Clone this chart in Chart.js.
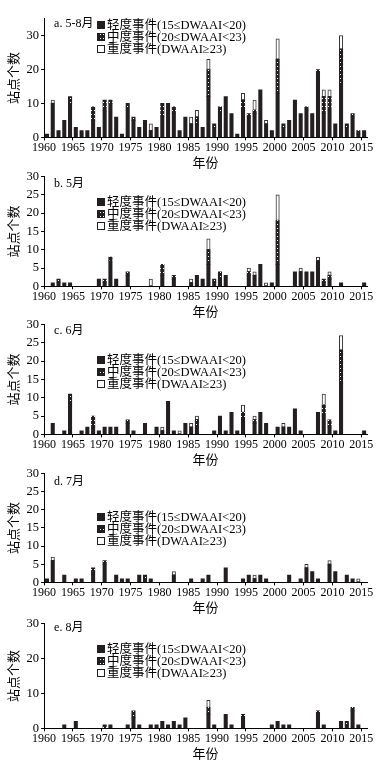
<!DOCTYPE html>
<html>
<head>
<meta charset="utf-8">
<script src="https://cdn.jsdelivr.net/npm/chart.js@4.4.0/dist/chart.umd.min.js"></script>
<style>
    body { margin: 0; background: #fff; width: 380px; height: 763px; position: relative; overflow: hidden; }
    canvas { position: absolute; left: 0; }
</style>
</head>
<body>
<canvas id="panelA" width="380" height="161" style="top:9px"></canvas>
<canvas id="panelB" width="380" height="152" style="top:167px"></canvas>
<canvas id="panelC" width="380" height="152" style="top:315px"></canvas>
<canvas id="panelD" width="380" height="151" style="top:464px"></canvas>
<canvas id="panelE" width="380" height="147" style="top:614px"></canvas>
<script>
// Years 1960-2015, one bar per year
const years = Array.from({ length: 56 }, (_, i) => 1960 + i);

// a. May-August
const aLight = [1, 10, 2, 5, 10, 3, 2, 2, 5, 3,
    8, 10, 6, 1, 8, 5, 3, 5, 2, 3,
    6, 10, 7, 2, 6, 4, 4, 3, 12, 3,
    7, 12, 7, 1, 8, 6, 7, 14, 4, 2,
    13, 3, 5, 11, 7, 8, 7, 19, 7, 8,
    4, 16, 3, 6, 1, 2];
const aMid = [0, 0, 0, 0, 2, 0, 0, 0, 4, 0,
    3, 1, 0, 0, 2, 1, 0, 0, 0, 0,
    4, 0, 2, 0, 0, 0, 2, 0, 8, 1,
    2, 0, 0, 0, 3, 1, 1, 0, 0, 0,
    10, 1, 0, 0, 0, 1, 0, 1, 5, 4,
    0, 10, 1, 1, 1, 0];
const aSevere = [0, 1, 0, 0, 0, 0, 0, 0, 0, 0,
    0, 0, 0, 0, 0, 0, 0, 0, 2, 0,
    0, 0, 0, 0, 0, 2, 2, 0, 3, 0,
    0, 0, 0, 0, 2, 0, 3, 0, 1, 0,
    6, 0, 0, 0, 0, 0, 0, 0, 2, 2,
    0, 4, 0, 0, 0, 0];

// b. May
const bLight = [0, 1, 1, 1, 1, 0, 0, 0, 0, 2,
    1, 7, 2, 0, 3, 0, 0, 0, 0, 0,
    3, 0, 2, 0, 0, 1, 3, 2, 6, 1,
    2, 3, 0, 0, 0, 3, 3, 6, 0, 1,
    6, 0, 0, 4, 4, 4, 4, 7, 1, 2,
    0, 1, 0, 0, 0, 1];
const bMid = [0, 0, 1, 0, 0, 0, 0, 0, 0, 0,
    1, 1, 0, 0, 1, 0, 0, 0, 0, 0,
    3, 0, 1, 0, 0, 0, 0, 0, 4, 1,
    2, 0, 0, 0, 0, 1, 0, 0, 0, 0,
    12, 0, 0, 0, 0, 0, 0, 0, 1, 1,
    0, 0, 0, 0, 0, 0];
const bSevere = [0, 0, 0, 0, 0, 0, 0, 0, 0, 0,
    0, 0, 0, 0, 0, 0, 0, 0, 2, 0,
    0, 0, 0, 0, 0, 1, 0, 0, 3, 0,
    0, 0, 0, 0, 0, 1, 1, 0, 1, 0,
    7, 0, 0, 0, 1, 0, 0, 1, 0, 1,
    0, 0, 0, 0, 0, 0];

// c. June
const cLight = [0, 3, 0, 1, 9, 0, 1, 2, 2, 1,
    2, 2, 2, 0, 3, 1, 0, 3, 0, 2,
    1, 9, 1, 0, 3, 2, 2, 0, 0, 1,
    5, 1, 6, 1, 4, 0, 3, 6, 3, 0,
    2, 2, 2, 7, 1, 0, 0, 6, 5, 2,
    1, 14, 0, 0, 0, 1];
const cMid = [0, 0, 0, 0, 2, 0, 0, 0, 3, 0,
    0, 0, 0, 0, 1, 0, 0, 0, 0, 0,
    0, 0, 0, 0, 0, 0, 2, 0, 0, 0,
    0, 0, 0, 0, 2, 0, 1, 0, 0, 0,
    0, 0, 0, 0, 0, 0, 0, 0, 3, 2,
    0, 9, 0, 0, 0, 0];
const cSevere = [0, 0, 0, 0, 0, 0, 0, 0, 0, 0,
    0, 0, 0, 0, 0, 0, 0, 0, 0, 0,
    1, 0, 0, 1, 0, 1, 1, 0, 0, 0,
    0, 0, 0, 0, 2, 0, 1, 0, 0, 0,
    0, 1, 0, 0, 0, 0, 0, 0, 3, 0,
    0, 4, 0, 0, 0, 0];

// d. July
const dLight = [1, 6, 0, 2, 0, 1, 1, 0, 3, 0,
    5, 0, 2, 1, 1, 0, 2, 1, 1, 0,
    0, 0, 2, 0, 0, 1, 0, 1, 2, 0,
    0, 4, 0, 0, 1, 2, 1, 2, 1, 0,
    0, 0, 2, 0, 1, 4, 3, 1, 0, 5,
    3, 0, 2, 1, 0, 0];
const dMid = [0, 0, 0, 0, 0, 0, 0, 0, 1, 0,
    1, 0, 0, 0, 0, 0, 0, 1, 0, 0,
    0, 0, 0, 0, 0, 0, 0, 0, 0, 0,
    0, 0, 0, 0, 0, 0, 0, 0, 0, 0,
    0, 0, 0, 0, 0, 0, 0, 0, 0, 0,
    0, 0, 0, 0, 0, 0];
const dSevere = [0, 1, 0, 0, 0, 0, 0, 0, 0, 0,
    0, 0, 0, 0, 0, 0, 0, 0, 0, 0,
    0, 0, 1, 0, 0, 0, 0, 0, 0, 0,
    0, 0, 0, 0, 0, 0, 1, 0, 0, 0,
    0, 0, 0, 0, 0, 1, 0, 0, 0, 1,
    0, 0, 0, 0, 1, 0];

// e. August
const eLight = [0, 0, 0, 1, 0, 2, 0, 0, 0, 0,
    0, 1, 0, 0, 1, 3, 1, 0, 1, 1,
    2, 1, 2, 1, 3, 0, 0, 0, 4, 1,
    0, 4, 1, 0, 3, 0, 0, 0, 0, 1,
    2, 1, 1, 0, 0, 0, 0, 4, 1, 0,
    0, 2, 1, 5, 1, 0];
const eMid = [0, 0, 0, 0, 0, 0, 0, 0, 0, 0,
    1, 0, 0, 0, 0, 2, 0, 0, 0, 0,
    0, 0, 0, 0, 0, 0, 0, 0, 2, 0,
    0, 0, 0, 0, 1, 0, 0, 0, 0, 0,
    0, 0, 0, 0, 0, 0, 0, 1, 0, 0,
    0, 0, 1, 1, 0, 0];
const eSevere = [0, 0, 0, 0, 0, 0, 0, 0, 0, 0,
    0, 0, 0, 0, 0, 0, 0, 0, 0, 0,
    0, 0, 0, 0, 0, 0, 0, 0, 2, 0,
    0, 0, 0, 0, 0, 0, 0, 0, 0, 0,
    0, 0, 0, 0, 0, 0, 0, 0, 0, 0,
    0, 0, 0, 0, 0, 0];

const seriesNames = ['轻度事件(15≤DWAAI<20)', '中度事件(20≤DWAAI<23)', '重度事件(DWAAI≥23)'];

const DARK = '#231f20';
const serif = '"Liberation Serif", "Noto Sans CJK SC", serif';
const cjk = '"Noto Sans CJK SC", sans-serif';

// dark fill with sparse white dots for the moderate class
function makeDots() {
    const c = document.createElement('canvas');
    c.width = 3;
    c.height = 4;
    const g = c.getContext('2d');
    g.fillStyle = DARK;
    g.fillRect(0, 0, 3, 4);
    g.fillStyle = '#fff';
    g.fillRect(1, 1, 1, 1);
    return g.createPattern(c, 'repeat');
}
const dots = makeDots();

// panel letter + legend, drawn inside the plot area
const panelDecor = {
    id: 'panelDecor',
    afterDraw(chart, args, opts) {
        const ctx = chart.ctx;
        const area = chart.chartArea;
        ctx.save();
        ctx.fillStyle = '#000';
        ctx.textBaseline = 'middle';
        ctx.textAlign = 'left';
        ctx.font = '12px ' + serif;
        ctx.fillText(opts.label, area.left + 10, area.top + opts.labelY);

        seriesNames.forEach((name, i) => {
            const y = Math.round(area.top + opts.legendY + i * 12);
            const x = 97;
            if (i === 0) {
                ctx.fillStyle = DARK;
                ctx.fillRect(x, y - 4, 8, 8);
            } else {
                ctx.fillStyle = i === 1 ? dots : '#fff';
                ctx.fillRect(x, y - 4, 8, 8);
                ctx.strokeStyle = DARK;
                ctx.lineWidth = 1;
                ctx.strokeRect(x + 0.5, y - 3.5, 7, 7);
            }
            ctx.fillStyle = '#000';
            ctx.font = '12.5px ' + serif;
            ctx.fillText(name, x + 10, y + 0.5);
        });
        ctx.restore();
    }
};

function toPoints(values) {
    return values.map((v, i) => ({ x: years[i] + 0.5, y: v > 0 ? v : null }));
}

function drawPanel(canvasId, light, mid, severe, yMax, label, labelY, legendY) {
    const ctx = document.getElementById(canvasId);
    new Chart(ctx, {
        type: 'bar',
        data: {
            datasets: [{
                label: seriesNames[0],
                data: toPoints(light),
                backgroundColor: DARK,
                borderWidth: 0
            }, {
                label: seriesNames[1],
                data: toPoints(mid),
                backgroundColor: dots,
                borderWidth: 0
            }, {
                label: seriesNames[2],
                data: toPoints(severe),
                backgroundColor: '#fff',
                borderColor: '#333',
                borderWidth: 1,
                borderSkipped: false
            }]
        },
        options: {
            responsive: false,
            animation: false,
            barThickness: 3.4,
            layout: { padding: { top: 8, left: 0, right: 13, bottom: 0 } },
            plugins: {
                legend: { display: false },
                tooltip: { enabled: false },
                panelDecor: { label: label, labelY: labelY, legendY: legendY }
            },
            scales: {
                x: {
                    type: 'linear',
                    min: 1960,
                    max: 2016,
                    offset: false,
                    stacked: true,
                    border: { color: '#000', width: 1 },
                    grid: { drawOnChartArea: false, offset: false, tickLength: 3, color: '#000' },
                    ticks: {
                        stepSize: 5,
                        includeBounds: false,
                        autoSkip: false,
                        maxRotation: 0,
                        padding: 1,
                        color: '#000',
                        font: { family: serif, size: 12, lineHeight: 1 },
                        callback: (v) => String(v)
                    },
                    title: {
                        display: true,
                        text: '年份',
                        color: '#000',
                        padding: { top: 0, bottom: 0 },
                        font: { family: cjk, size: 13, lineHeight: 1.2 }
                    }
                },
                y: {
                    min: 0,
                    max: yMax,
                    stacked: true,
                    border: { color: '#000', width: 1 },
                    grid: { drawOnChartArea: false, tickLength: 3, color: '#000' },
                    ticks: {
                        stepSize: 5,
                        padding: 2,
                        color: '#000',
                        font: { family: serif, size: 12.5 }
                    },
                    title: {
                        display: true,
                        text: '站点个数',
                        color: '#000',
                        padding: { top: 5, bottom: 4 },
                        font: { family: cjk, size: 13, lineHeight: 1.2 }
                    }
                }
            }
        },
        plugins: [panelDecor]
    });
}

drawPanel('panelA', aLight, aMid, aSevere, 35, 'a. 5-8月', 5, 6);
drawPanel('panelB', bLight, bMid, bSevere, 30, 'b. 5月', 7, 25);
drawPanel('panelC', cLight, cMid, cSevere, 30, 'c. 6月', 6, 35);
drawPanel('panelD', dLight, dMid, dSevere, 30, 'd. 7月', 8, 43);
drawPanel('panelE', eLight, eMid, eSevere, 30, 'e. 8月', 4, 25);
</script>
</body>
</html>
